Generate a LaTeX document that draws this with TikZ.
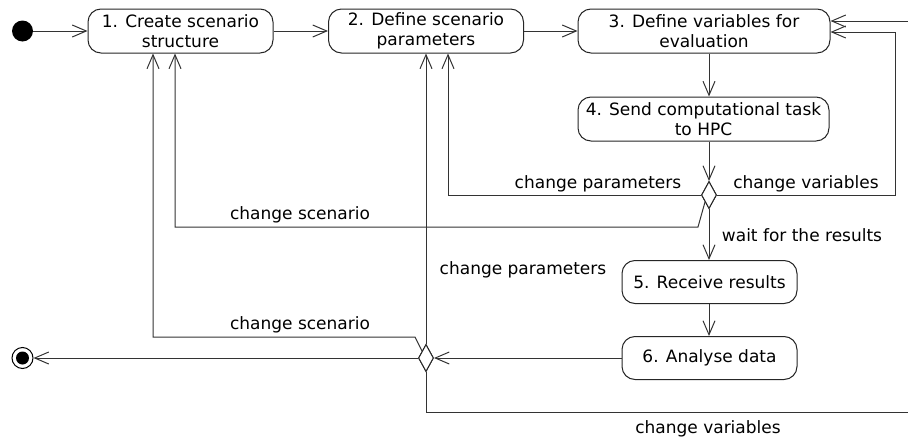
\documentclass[tikz,border=0pt]{standalone}
\usepackage{fontspec}
\setmainfont{DejaVu Sans}
\usetikzlibrary{arrows.meta,shapes.geometric}
\begin{document}
\begin{tikzpicture}[x=1pt,y=-1pt,
  txt/.style={font=\fontsize{17}{19.5}\selectfont},
  act/.style={txt, draw=black!85, line width=1pt, rounded corners=13pt, align=center, inner sep=0pt, fill=white},
  lbl/.style={txt, inner sep=0pt, anchor=base},
  dec/.style={draw=black!85, line width=1pt, shape=diamond, minimum width=15pt, minimum height=27pt, inner sep=0pt, fill=white},
  ln/.style={draw=black!80, line width=1pt},
  arr/.style={ln, -{Straight Barb[length=14pt,width=12pt,line width=1pt]}}]
\useasboundingbox (0,0) rectangle (908,439);
\begin{scope}
\clip (0,0) rectangle (908,439);
% activities
\node[act, minimum width=185pt, minimum height=44pt] (n1) at (180.5,31) {1. Create scenario\\structure};
\node[act, minimum width=195pt, minimum height=44pt] (n2) at (426,31) {2. Define scenario\\parameters};
\node[act, minimum width=252pt, minimum height=44pt] (n3) at (704,31) {3. Define variables for\\evaluation};
\node[act, minimum width=251pt, minimum height=44pt] (n4) at (703.5,119) {4. Send computational task\\to HPC};
\node[act, minimum width=175pt, minimum height=43pt] (n5) at (709.5,282) {5. Receive results};
\node[act, minimum width=175pt, minimum height=43pt] (n6) at (709.5,358) {6. Analyse data};
% start / end
\node[circle, fill=black, minimum size=21pt, inner sep=0pt] (start) at (22.5,31) {};
\node[circle, draw=black, line width=1pt, minimum size=21pt, inner sep=0pt] (end) at (22.5,358) {};
\fill[black] (end.center) circle[radius=6.5pt];
% decisions
\node[dec] (d1) at (709,195) {};
\node[dec] (d2) at (426,358) {};
% bend points
\coordinate (pL) at (448,195);
\coordinate (pR) at (895,195);
\coordinate (pRt) at (895,32);
\coordinate (sA) at (698,227);
\coordinate (sB) at (175,227);
\coordinate (tA) at (415,337);
\coordinate (tB) at (153,337);
\coordinate (bA) at (426,412);
\coordinate (bB) at (920,412);
\coordinate (bC) at (920,21);
% flows
\draw[arr] (start) -- (n1.west);
\draw[arr] (n1) -- (n2);
\draw[arr] (n2) -- (n3);
\draw[arr] (n3.south -| d1) -- (n4.north -| d1);
\draw[arr] (n4.south -| d1) -- (d1.north);
\draw[arr] (d1.west) -- (pL) -- (pL |- n2.south);
\draw[arr] (d1.east) -- (pR) -- (pRt) -- (pRt -| n3.east);
\draw[arr] (d1.south west) -- (sA) -- (sB) -- (sB |- n1.south);
\draw[arr] (d1.south) -- (n5.north -| d1);
\draw[arr] (n5.south -| d1) -- (n6.north -| d1);
\draw[arr] (n6.west) -- (d2.east);
\draw[arr] (d2.west) -- (end);
\draw[arr] (d2.north west) -- (tA) -- (tB) -- (tB |- n1.south);
\draw[arr] (d2.north) -- (n2.south);
\draw[arr] (d2.south) -- (bA) -- (bB) -- (bC) -- (bC -| n3.east);
% redraw decisions on top
\node[dec] at (d1) {};
\node[dec] at (d2) {};
% labels
\node[lbl] (l1) at (598,188) {change parameters};
\node[lbl] (l2) at (806,188) {change variables};
\node[lbl] (l3) at (300,219) {change scenario};
\node[lbl] (l4) at (802,241) {wait for the results};
\node[lbl] (l5) at (523,274) {change parameters};
\node[lbl] (l6) at (300,329) {change scenario};
\node[lbl] (l7) at (708,433) {change variables};
\end{scope}
\end{tikzpicture}
\end{document}
